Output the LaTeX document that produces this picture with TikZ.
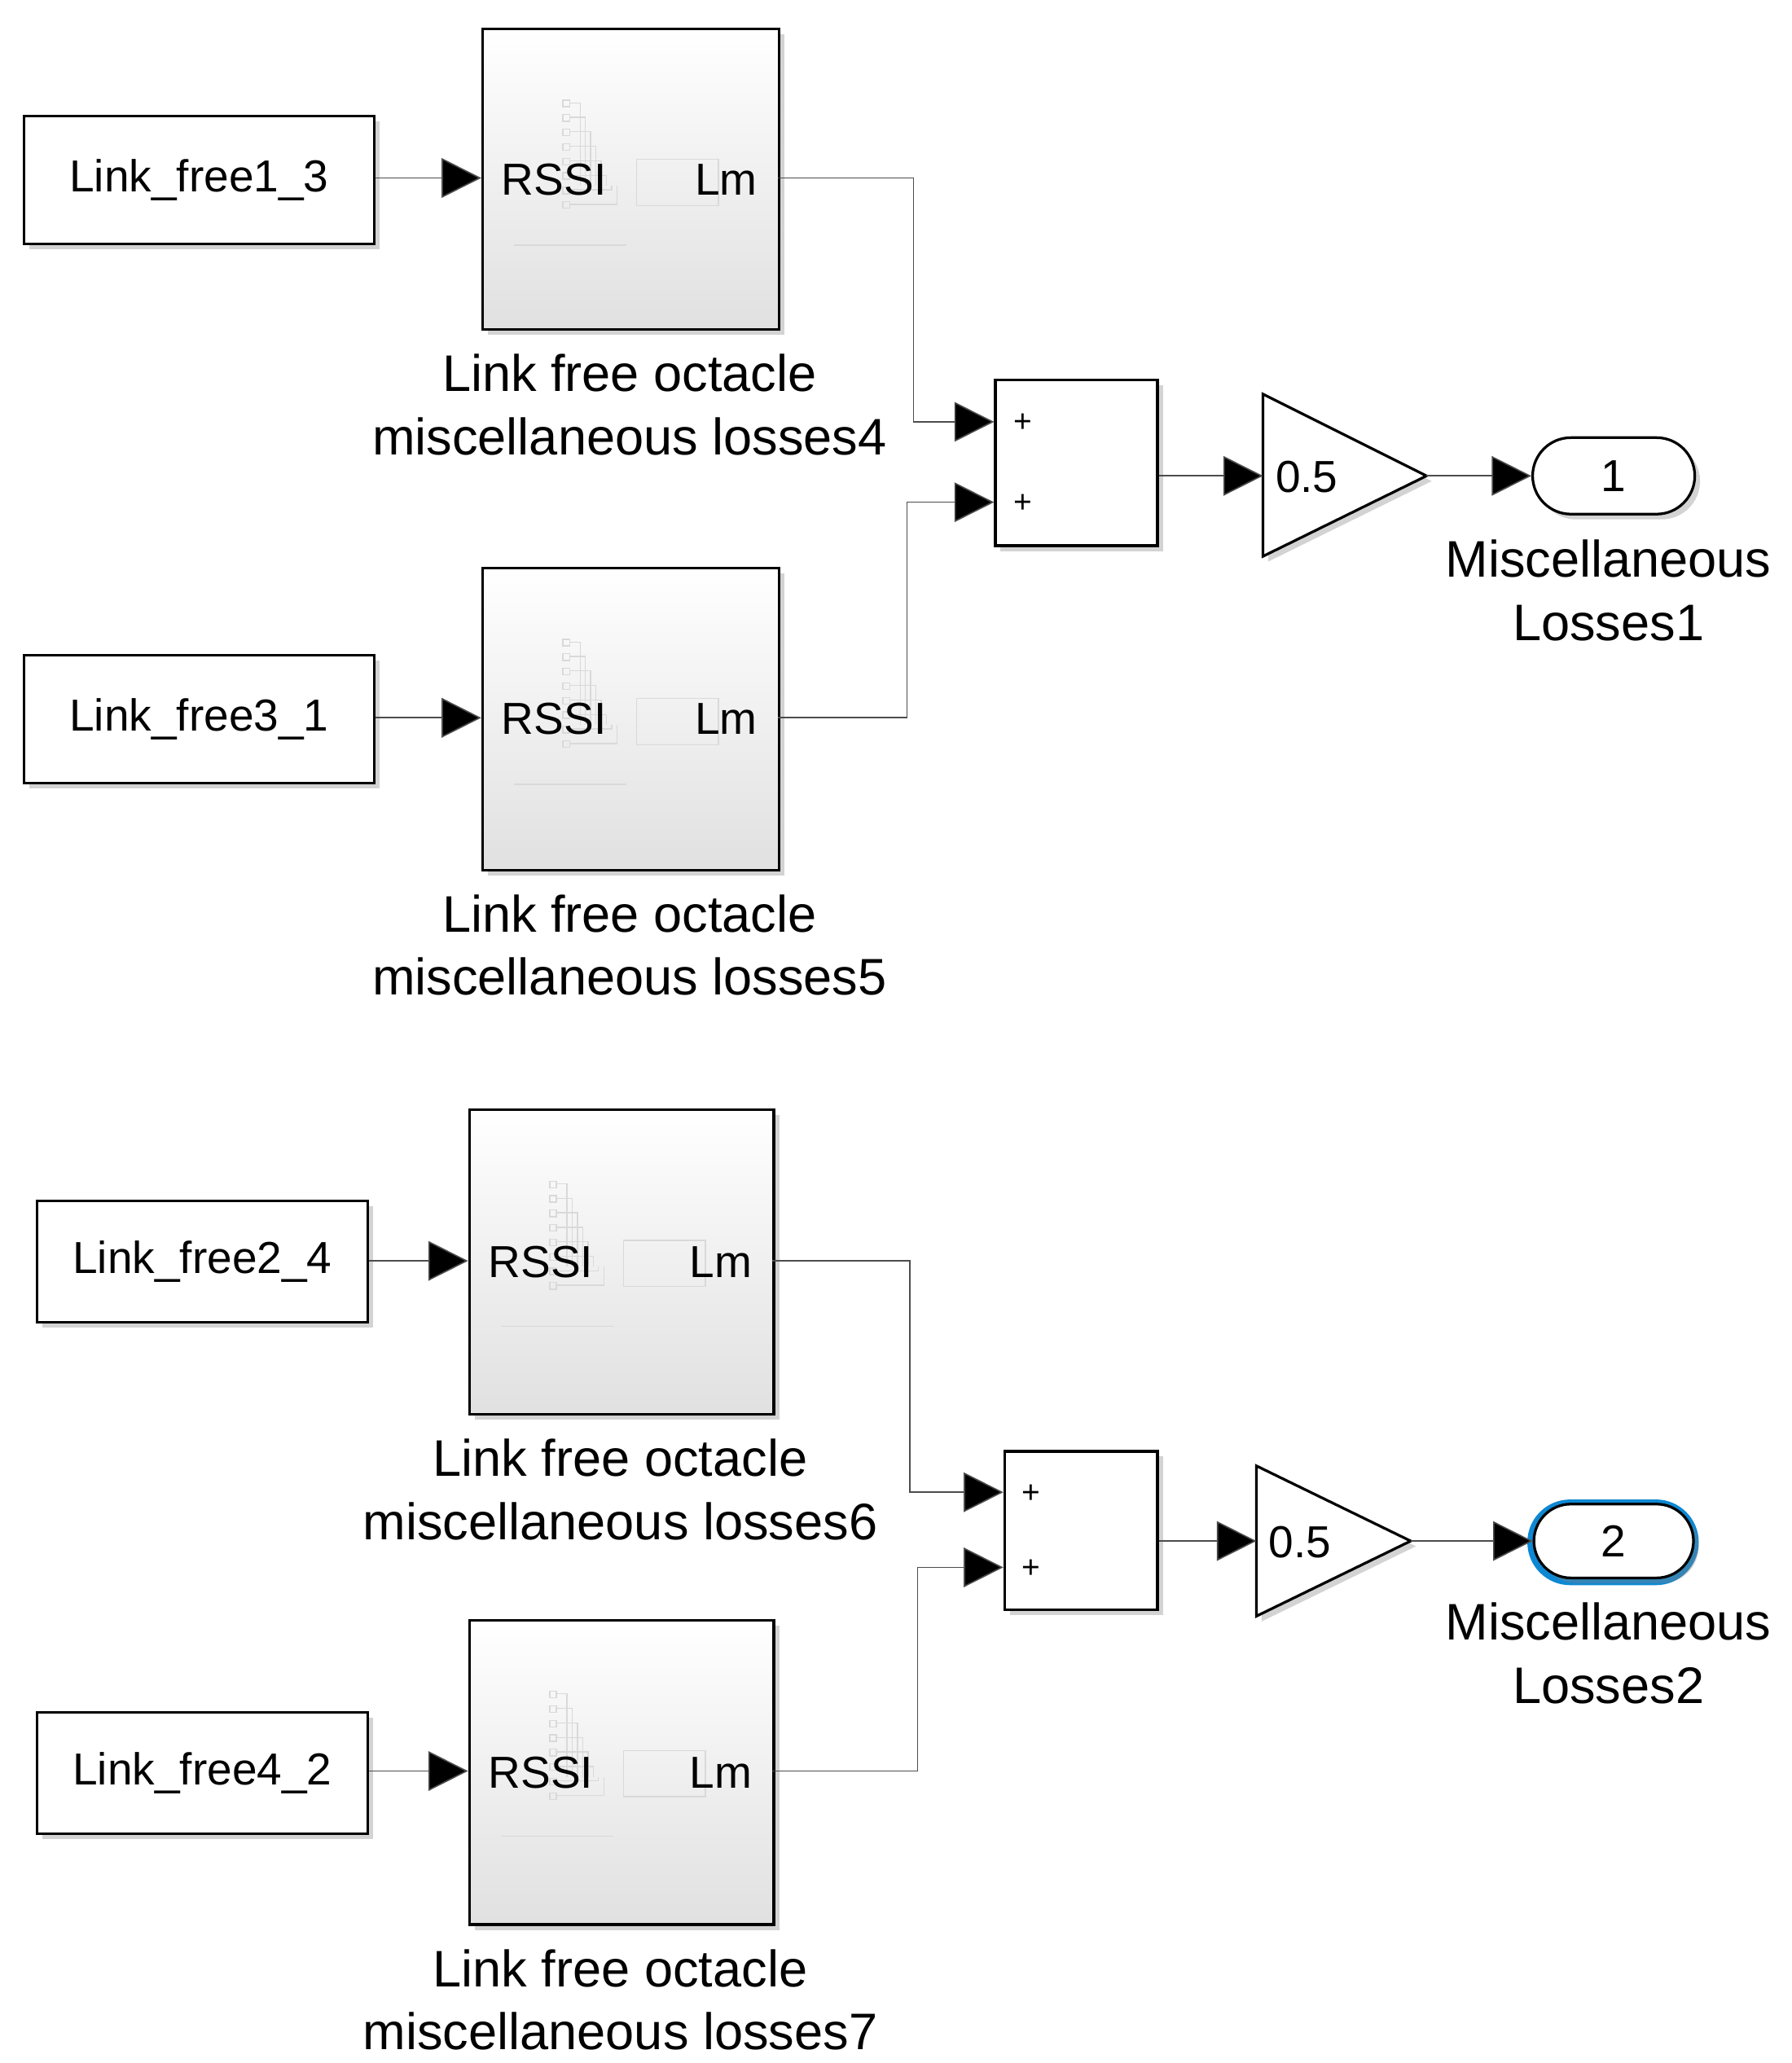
\documentclass[tikz,border=0pt]{standalone}
\usepackage{fontspec}
\setmainfont{Liberation Sans}
\usetikzlibrary{arrows.meta,shadows}
\begin{document}
\begin{tikzpicture}[x=1pt,y=-1pt,
  blk/.style={draw,line width=2pt,fill=white,drop shadow={shadow xshift=4pt,shadow yshift=-4pt,opacity=0.35}},
  sub/.style={draw,line width=2pt,top color=white,bottom color=black!12,drop shadow={shadow xshift=4pt,shadow yshift=-4pt,opacity=0.35}},
  txt/.style={font=\fontsize{34}{40}\selectfont},
  lab/.style={font=\fontsize{39}{48}\selectfont,align=center},
  pl/.style={font=\fontsize{24}{24}\selectfont},
  wire/.style={draw=black!70,line width=1pt,-{Triangle[length=30pt,width=30pt,fill=black]}},
  faint/.style={draw=black!15,line width=0.8pt}]
\useasboundingbox (0,0) rectangle (1359,1565);
\newcommand{\subsys}[6]{% name x1 y1 x2 y2 label
  \node[sub,minimum width=#4-#2,minimum height=#5-#3,anchor=north west,inner sep=0] (#1) at (#2,#3) {};
  \foreach \k in {0,1,...,7}{\draw[faint] (#2+62,#3+55+\k*11) rectangle ++(5,5);
    \draw[faint] (#2+67,#3+57+\k*11) -- (#2+75+\k*4,#3+57+\k*11) -- (#2+75+\k*4,#3+120);}
  \draw[faint] (#2+118,#3+100) rectangle (#2+180,#3+135);
  \draw[faint] (#2+25,#3+165) -- (#2+110,#3+165);
  \node[txt,anchor=west] at (#2+12,{(#3+#5)/2+1}) {RSSI};
  \node[txt,anchor=east] at (#4-12,{(#3+#5)/2+1}) {Lm};
  \coordinate (#1i) at (#2,{(#3+#5)/2});
  \coordinate (#1o) at (#4,{(#3+#5)/2});
  \node[lab] at ({(#2+#4)/2},#5+58) {#6};}
% top group
\node[blk,txt,minimum width=266,minimum height=97,anchor=north west] (c1) at (17,87) {Link\_free1\_3};
\subsys{s1}{365}{21}{590}{249}{Link free octacle\\miscellaneous losses4}
\node[blk,txt,minimum width=266,minimum height=97,anchor=north west] (c2) at (17,496) {Link\_free3\_1};
\subsys{s2}{365}{430}{590}{659}{Link free octacle\\miscellaneous losses5}
\node[blk,minimum width=123,minimum height=126,anchor=north west] (sum1) at (754,287) {};
\node[pl] at (776,321) {+};
\node[pl] at (776,382) {+};
\draw[blk] (958,299) -- (1082,361) -- (958,422) -- cycle;
\coordinate (g1i) at (958,361); \coordinate (g1o) at (1082,361);
\node[txt,anchor=west] at (964,362) {0.5};
\node[blk,rounded corners=29pt,minimum width=123,minimum height=58,txt] (o1) at (1224,361) {1};
\node[lab] at (1220,448) {Miscellaneous\\Losses1};
\draw[wire] (c1.east |- s1i) -- (s1i);
\draw[wire] (c2.east |- s2i) -- (s2i);
\draw[wire] (s1o) -| (693,320) -- (754,320);
\draw[wire] (s2o) -| (688,381) -- (754,381);
\draw[wire] (sum1.east |- g1i) -- (g1i);
\draw[wire] (g1o) -- (o1.west);
% bottom group
\node[blk,txt,minimum width=251,minimum height=92,anchor=north west] (c3) at (27,910) {Link\_free2\_4};
\subsys{s3}{355}{841}{586}{1072}{Link free octacle\\miscellaneous losses6}
\node[blk,txt,minimum width=251,minimum height=92,anchor=north west] (c4) at (27,1298) {Link\_free4\_2};
\subsys{s4}{355}{1228}{586}{1459}{Link free octacle\\miscellaneous losses7}
\node[blk,minimum width=116,minimum height=120,anchor=north west] (sum2) at (761,1100) {};
\node[pl] at (782,1133) {+};
\node[pl] at (782,1190) {+};
\draw[blk] (953,1112) -- (1070,1169) -- (953,1226) -- cycle;
\coordinate (g2i) at (953,1169); \coordinate (g2o) at (1070,1169);
\node[txt,anchor=west] at (959,1170) {0.5};
\draw[draw=cyan!70!blue,line width=7pt,rounded corners=29pt] (1162,1141) rectangle (1285,1199);
\node[blk,rounded corners=28pt,minimum width=121,minimum height=56,txt] (o2) at (1224,1169) {2};
\node[lab] at (1220,1254) {Miscellaneous\\Losses2};
\draw[wire] (c3.east |- s3i) -- (s3i);
\draw[wire] (c4.east |- s4i) -- (s4i);
\draw[wire] (s3o) -| (690,1132) -- (761,1132);
\draw[wire] (s4o) -| (696,1189) -- (761,1189);
\draw[wire] (sum2.east |- g2i) -- (g2i);
\draw[wire] (g2o) -- (o2.west);
\end{tikzpicture}
\end{document}
